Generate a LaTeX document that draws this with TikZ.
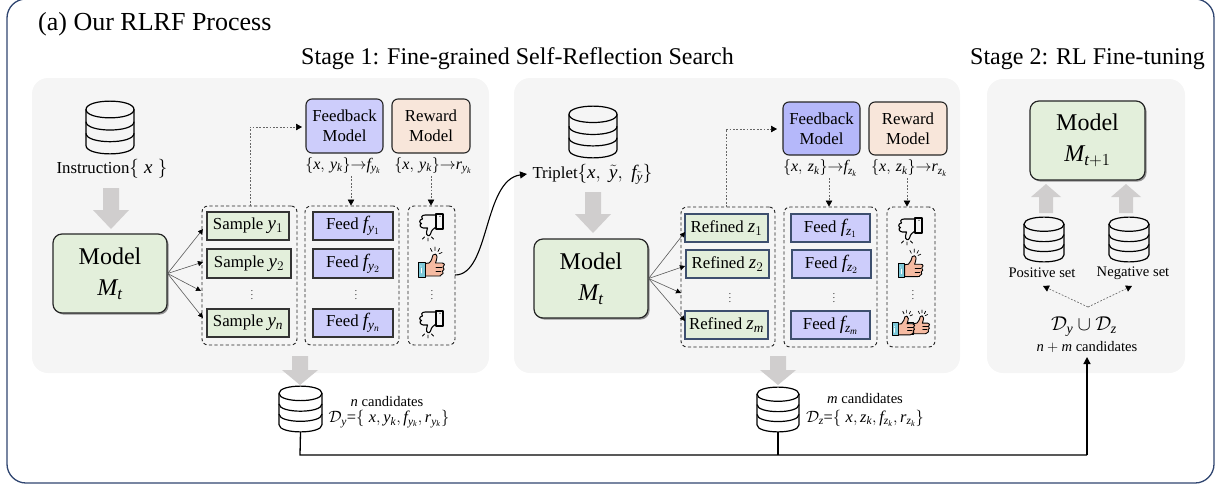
\documentclass[tikz,border=0pt]{standalone}
\usepackage{fix-cm}
\usepackage{fontspec}
\setmainfont{Liberation Serif}
\DeclareSymbolFont{lsit}{TU}{\rmdefault}{m}{it}
\DeclareMathSymbol{M}{\mathalpha}{lsit}{`M}
\DeclareMathSymbol{t}{\mathalpha}{lsit}{`t}
\DeclareMathSymbol{x}{\mathalpha}{lsit}{`x}
\DeclareMathSymbol{y}{\mathalpha}{lsit}{`y}
\DeclareMathSymbol{z}{\mathalpha}{lsit}{`z}
\DeclareMathSymbol{k}{\mathalpha}{lsit}{`k}
\DeclareMathSymbol{f}{\mathalpha}{lsit}{`f}
\DeclareMathSymbol{r}{\mathalpha}{lsit}{`r}
\DeclareMathSymbol{n}{\mathalpha}{lsit}{`n}
\DeclareMathSymbol{m}{\mathalpha}{lsit}{`m}
\usetikzlibrary{arrows.meta,shadows}
\definecolor{panelgray}{HTML}{F5F5F5}
\definecolor{framecol}{HTML}{2F4570}
\definecolor{greenfill}{HTML}{E3EFDB}
\definecolor{lilac}{HTML}{CDCDFB}
\definecolor{lilacdark}{HTML}{B5B8FA}
\definecolor{peach}{HTML}{F8E6DA}
\definecolor{grayarrow}{HTML}{D0CECE}
\definecolor{cuffcol}{HTML}{7CC8D8}
\definecolor{skin}{HTML}{F6BBA2}
\definecolor{edgeblue}{HTML}{3D4F6E}
\tikzset{
  frame/.style={draw=framecol,line width=1.3pt,rounded corners=19pt},
  panel/.style={draw=none,fill=panelgray,inner sep=0pt,rounded corners=16pt},
  modelbox/.style={draw=black!85,fill=greenfill,line width=1.2pt,rounded corners=9pt,inner sep=0pt,align=center,
    font=\fontsize{24}{30}\selectfont,
    drop shadow={shadow xshift=1.6pt,shadow yshift=-1.6pt,fill=black,opacity=.4}},
  helperbox/.style={draw=black!85,line width=1.1pt,rounded corners=6pt,inner sep=0pt,align=center,
    font=\fontsize{16.8}{20}\selectfont},
  itembox/.style={draw=black!80,line width=1.1pt,inner sep=0pt,font=\fontsize{16.8}{20}\selectfont},
  groupbox/.style={draw=black!85,line width=.9pt,dash pattern=on 3.2pt off 2.4pt,rounded corners=6pt,inner sep=0pt},
  txt/.style={inner sep=0pt,font=\fontsize{16.8}{20}\selectfont},
  smalltxt/.style={inner sep=0pt,font=\fontsize{14.6}{18}\selectfont},
  ruletxt/.style={inner sep=0pt,font=\fontsize{16}{18}\selectfont},
  settxt/.style={inner sep=0pt,font=\fontsize{16.4}{18}\selectfont},
  dotsnode/.style={inner sep=0pt,font=\fontsize{9}{9}\selectfont},
  fan/.style={draw=black!65,line width=.6pt,-{Triangle[length=5pt,width=5pt,color=black]}},
  dotted link/.style={draw=black!60,line width=.65pt,dash pattern=on 1.8pt off 1.6pt,-{Triangle[length=6pt,width=6.5pt,color=black]}},
  strong link/.style={draw=black,line width=1.3pt},
}
\newcommand\mathbig[1]{{\fontsize{19}{20}\selectfont$#1$}}
% box from corner coordinates
\newcommand\cornerbox[6]{\node[#6,minimum width={(#4-#2)*1pt},minimum height={(#5-#3)*1pt}] (#1) at ({(#2+#4)/2},{(#3+#5)/2})}
% database icon
\newcommand\dbicon[5]{%
  \node[inner sep=0pt,minimum width={(#4-#2)*1pt},minimum height={(#5-#3)*1pt}] (#1) at ({(#2+#4)/2},{(#3+#5)/2}) {};
  \begin{scope}[shift={(#2,#3)},x={1pt*(#4-#2)},y={1pt*(#3-#5)},line width=1.2pt,draw=black]
    \draw (0,.16) .. controls (0,-.05) and (1,-.05) .. (1,.16) .. controls (1,.37) and (0,.37) .. (0,.16);
    \draw (0,.16) -- (0,.84) .. controls (0,1.05) and (1,1.05) .. (1,.84) -- (1,.16);
    \draw (0,.39) .. controls (0,.60) and (1,.60) .. (1,.39);
    \draw (0,.61) .. controls (0,.82) and (1,.82) .. (1,.61);
  \end{scope}}
% block arrow: centre x, tail y, tip y, head base y, half head, half stem
\newcommand\blockarrow[6]{\fill[grayarrow] ({#1-#6},#2) -- ({#1+#6},#2) -- ({#1+#6},#4) -- ({#1+#5},#4) -- (#1,#3) -- ({#1-#5},#4) -- ({#1-#6},#4) -- cycle;}
\newcommand\thumbdown[2]{%
  \begin{scope}[shift={(#1,#2)},line width=1.1pt,line join=round,line cap=round]
    \draw (17,1) rectangle (24,16);
    \fill (21,3.2) circle (.6);
    \draw (17,2) -- (6,2) .. controls (2,2) and (2,5.5) .. (3.5,6) .. controls (0,6.5) and (0,10) .. (2.5,10.5) .. controls (0,11) and (1,15) .. (4.5,15) -- (8.5,15) -- (7.5,19) .. controls (7,23) and (10.5,24) .. (11.5,21) .. controls (12.5,17) and (14,16) .. (17,14);
    \draw[line width=.85pt] (9,25) -- (9,28) (5.5,24) -- (3.5,26) (12.5,24) -- (14.5,26);
  \end{scope}}
\newcommand\thumbup[3]{%
  \begin{scope}[shift={(#1,#2)},scale=#3,line width=.9pt,line join=round,line cap=round]
    \draw[line width=.7pt] (17,0) -- (17,3.5) (12.5,1.5) -- (14,4.5) (21.5,1.5) -- (20,4.5) (24,5.5) -- (21,6.8);
    \draw[fill=skin] (7,16.5) -- (11,16) .. controls (14,14) and (14,10) .. (15,8) .. controls (16,6) and (19,7) .. (19,10) .. controls (19,12) and (18,14) .. (17.5,16) -- (24,16) .. controls (27,16) and (27,19) .. (25,20) .. controls (27,21) and (26,24) .. (24.5,24) .. controls (26,25) and (25,28) .. (23,28) .. controls (23,29) and (22,29) .. (21,29) -- (7,29) -- cycle;
    \draw[fill=cuffcol] (0,15) rectangle (7,30);
    \fill[white] (3,19) circle (.6);
    \draw[white,line width=.6pt] (3,21) -- (3,26);
    \draw[line width=.6pt] (18,20) -- (24,20) (18,24) -- (23,24);
  \end{scope}}
\begin{document}
\begin{tikzpicture}[x=1pt,y=-1pt]
\useasboundingbox (0,0) rectangle (1224,488);
\draw[frame] (7,-1) rectangle (1214,483);
\cornerbox{panelA}{32}{78}{489}{373}{panel}{};
\cornerbox{panelB}{514}{78}{960}{373}{panel}{};
\cornerbox{panelC}{987}{79}{1185}{373}{panel}{};
% titles
\node[anchor=west,inner sep=0pt,font=\fontsize{26}{30}\selectfont] (title) at (38,24) {(a) Our RLRF Process};
\node[inner sep=0pt,font=\fontsize{24}{28}\selectfont] (stageA) at (517.5,59) {Stage 1: Fine-grained Self-Reflection Search};
\node[inner sep=0pt,font=\fontsize{24}{28}\selectfont] (stageB) at (1087.5,59) {Stage 2: RL Fine-tuning};
% ---- stage 1a
\dbicon{dbA}{86}{101}{134}{154}
\node[txt] (instr) at (112,169) {Instruction\mathbig{\{\;x\;\}}};
\blockarrow{111}{188}{229}{210}{18}{8}
\cornerbox{modelA}{53}{234}{167}{313}{modelbox}{Model\\[1pt]$M_t$};
\cornerbox{sampleGroup}{202}{206}{297}{345}{groupbox}{};
\cornerbox{sampleA}{207}{212}{289}{240}{itembox,fill=greenfill}{Sample \mathbig{y_1}};
\cornerbox{sampleB}{207}{249}{291}{278}{itembox,fill=greenfill}{Sample \mathbig{y_2}};
\node[dotsnode] (sampleDots) at (252,292) {$\vdots$};
\cornerbox{sampleN}{207}{309}{289}{337}{itembox,fill=greenfill}{Sample \mathbig{y_n}};
\cornerbox{feedGroup}{305}{206}{399}{345}{groupbox}{};
\cornerbox{feedA}{313}{212}{393}{240}{itembox,fill=lilac}{Feed \mathbig{f_{y_1}}};
\cornerbox{feedB}{313}{249}{393}{278}{itembox,fill=lilac}{Feed \mathbig{f_{y_2}}};
\node[dotsnode] (feedDots) at (356,292) {$\vdots$};
\cornerbox{feedN}{313}{309}{393}{337}{itembox,fill=lilac}{Feed \mathbig{f_{y_n}}};
\cornerbox{rewardGroup}{408}{206}{455}{345}{groupbox}{};
\node[dotsnode] (rewardDots) at (432,292) {$\vdots$};
\thumbdown{419}{213}
\thumbup{418}{247}{1}
\thumbdown{419}{310}
\cornerbox{feedbackA}{306}{99}{383}{153}{helperbox,fill=lilac}{Feedback\\Model};
\cornerbox{rewardA}{392}{99}{470}{153}{helperbox,fill=peach}{Reward\\Model};
\node[ruletxt] (ruleA) at (343,166) {$\{x,\,y_k\}{\to}f_{y_k}$};
\node[ruletxt] (ruleB) at (433,166) {$\{x,\,y_k\}{\to}r_{y_k}$};
% ---- stage 1b
\dbicon{dbB}{569}{106}{617}{158}
\node[txt] (triplet) at (592.5,174) {Triplet\mathbig{\{x,\;\tilde y,\;f_{\tilde y}\}}};
\blockarrow{593}{192}{233}{214}{18}{8}
\cornerbox{modelB}{534}{239}{648}{318}{modelbox}{Model\\[1pt]$M_t$};
\cornerbox{refGroup}{681}{207}{775}{347}{groupbox}{};
\cornerbox{refA}{685}{214}{768}{242}{itembox,draw=edgeblue,fill=greenfill}{Refined \mathbig{z_1}};
\cornerbox{refB}{686}{250}{769}{278}{itembox,draw=edgeblue,fill=greenfill}{Refined \mathbig{z_2}};
\node[dotsnode] (refDots) at (730,295) {$\vdots$};
\cornerbox{refM}{685}{311}{768}{339}{itembox,draw=edgeblue,fill=greenfill}{Refined \mathbig{z_m}};
\cornerbox{feedGroupB}{784}{207}{877}{347}{groupbox}{};
\cornerbox{feedC}{791}{214}{870}{242}{itembox,draw=edgeblue,fill=lilac}{Feed \mathbig{f_{z_1}}};
\cornerbox{feedD}{792}{250}{871}{278}{itembox,draw=edgeblue,fill=lilac}{Feed \mathbig{f_{z_2}}};
\node[dotsnode] (feedDotsB) at (834,295) {$\vdots$};
\cornerbox{feedM}{791}{311}{870}{339}{itembox,draw=edgeblue,fill=lilac}{Feed \mathbig{f_{z_m}}};
\cornerbox{rewardGroupB}{887}{207}{935}{347}{groupbox}{};
\node[dotsnode] (rewardDotsB) at (913,292) {$\vdots$};
\thumbdown{898}{217}
\thumbup{898}{249}{.95}
\thumbup{908}{310}{.82}
\thumbup{892}{310}{.86}
\cornerbox{feedbackB}{783}{102}{860}{155}{helperbox,fill=lilacdark}{Feedback\\Model};
\cornerbox{rewardB}{869}{102}{947}{155}{helperbox,fill=peach}{Reward\\Model};
\node[ruletxt] (ruleC) at (820,168) {$\{x,\,z_k\}{\to}f_{z_k}$};
\node[ruletxt] (ruleD) at (909,168) {$\{x,\,z_k\}{\to}r_{z_k}$};
% ---- stage 2
\cornerbox{modelC}{1030}{101}{1145}{180}{modelbox}{Model\\[1pt]$M_{t+1}$};
\blockarrow{1046}{213}{184}{197}{15}{7}
\blockarrow{1126}{213}{184}{197}{15}{7}
\dbicon{dbPos}{1024}{217}{1064}{262}
\dbicon{dbNeg}{1109}{217}{1149}{262}
\node[smalltxt] (posLabel) at (1042,273) {Positive set};
\node[smalltxt] (negLabel) at (1133,273) {Negative set};
\node[inner sep=0pt,font=\fontsize{20}{22}\selectfont] (union) at (1084,327) {$\mathcal{D}_y\cup\mathcal{D}_z$};
\node[smalltxt] (total) at (1087,347) {$n+m$ candidates};
% ---- bottom
\blockarrow{300}{356}{385}{370}{18}{8}
\blockarrow{778}{356}{385}{370}{18}{8}
\dbicon{dbY}{279}{386}{322}{432}
\dbicon{dbZ}{757}{387}{799}{432}
\node[smalltxt] (candY) at (387,401) {$n$ candidates};
\node[settxt] (setY) at (389,419) {$\mathcal{D}_y$=$\{\;x,y_k,f_{y_k},r_{y_k}\}$};
\node[smalltxt] (candZ) at (865,398) {$m$ candidates};
\node[settxt] (setZ) at (865,418) {$\mathcal{D}_z$=$\{\;x,z_k,f_{z_k},r_{z_k}\}$};
% ---- named ends
\coordinate (fanA1) at (203,229); \coordinate (fanA2) at (203,262); \coordinate (fanA3) at (201,291); \coordinate (fanA4) at (203,318);
\coordinate (fanB1) at (685,232); \coordinate (fanB2) at (685,266); \coordinate (fanB3) at (681,293); \coordinate (fanB4) at (685,321);
\coordinate (upA) at (250,206); \coordinate (upB) at (726,207);
\coordinate (bendA) at (250,127); \coordinate (bendB) at (726,129);
\coordinate (fbInA) at (302,127); \coordinate (fbInB) at (777,129);
\coordinate (tripIn) at (527,174);
\coordinate (curveOut) at (455,275);
\coordinate (split) at (1088,307);
\coordinate (posEnd) at (1043,286); \coordinate (negEnd) at (1132,286);
\coordinate (busY) at (300,455); \coordinate (busEnd) at (1087,455); \coordinate (totalIn) at (1087,357);
\coordinate (ruleAout) at (351,176); \coordinate (ruleBout) at (431,176); \coordinate (ruleCout) at (829,178); \coordinate (ruleDout) at (907,178);
% ---- connectors
\foreach \e in {fanA1,fanA2,fanA3,fanA4} \draw[fan] (modelA.east) -- (\e);
\foreach \e in {fanB1,fanB2,fanB3,fanB4} \draw[fan] (modelB.east) -- (\e);
\draw[dotted link] (upA) -- (bendA) -- (fbInA);
\draw[dotted link] (upB) -- (bendB) -- (fbInB);
\draw[dotted link] (ruleAout) -- (ruleAout |- feedGroup.north);
\draw[dotted link] (ruleBout) -- (ruleBout |- rewardGroup.north);
\draw[dotted link] (ruleCout) -- (ruleCout |- feedGroupB.north);
\draw[dotted link] (ruleDout) -- (ruleDout |- rewardGroupB.north);
\draw[dotted link] (split) -- (posEnd);
\draw[dotted link] (split) -- (negEnd);
\draw[draw=black,line width=1.1pt,-{Triangle[length=7pt,width=7pt]}] (curveOut) .. controls (490,275) and (483,180) .. (tripIn);
\draw[strong link] (dbY.south) -- (busY) -- (busEnd);
\draw[strong link] (dbZ.south) -- (dbZ.south |- busY);
\draw[strong link,-{Triangle[length=7pt,width=7pt]}] (busEnd) -- (totalIn);
\end{tikzpicture}
\end{document}
